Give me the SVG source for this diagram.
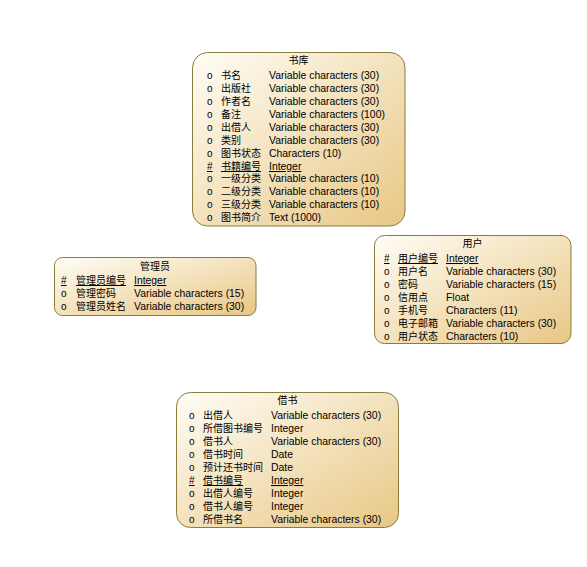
<svg xmlns="http://www.w3.org/2000/svg" width="587" height="567" viewBox="0 0 587 567">
<defs>
<linearGradient id="fill" x1="0" y1="0" x2="1" y2="1">
<stop offset="0" stop-color="#fffdf6"/>
<stop offset="1" stop-color="#e8c784"/>
</linearGradient>
<style>
.box{fill:url(#fill);stroke:#8a7d3c;stroke-width:1}
text{font-family:"Liberation Sans","Noto Sans CJK SC",sans-serif;fill:#000;}
.t{font-size:10px;text-anchor:middle}
.m{font-size:10px}
.n{font-size:10px}
.y{font-size:10.4px}
.u{text-decoration:underline}
</style>
</defs>
<rect width="587" height="567" fill="#fff"/>
<g id="connectors"/>
<g id="shuku">
<rect class="box" x="192.5" y="52.5" width="212.5" height="173.5" rx="15" ry="15"/>
<text class="t" x="298.5" y="64">书库</text>
<text class="m" x="207" y="79">o</text><text class="n" x="221" y="79">书名</text><text class="y" x="269" y="79">Variable characters (30)</text>
<text class="m" x="207" y="92">o</text><text class="n" x="221" y="92">出版社</text><text class="y" x="269" y="92">Variable characters (30)</text>
<text class="m" x="207" y="105">o</text><text class="n" x="221" y="105">作者名</text><text class="y" x="269" y="105">Variable characters (30)</text>
<text class="m" x="207" y="118">o</text><text class="n" x="221" y="118">备注</text><text class="y" x="269" y="118">Variable characters (100)</text>
<text class="m" x="207" y="131">o</text><text class="n" x="221" y="131">出借人</text><text class="y" x="269" y="131">Variable characters (30)</text>
<text class="m" x="207" y="144">o</text><text class="n" x="221" y="144">类别</text><text class="y" x="269" y="144">Variable characters (30)</text>
<text class="m" x="207" y="157">o</text><text class="n" x="221" y="157">图书状态</text><text class="y" x="269" y="157">Characters (10)</text>
<text class="m u" x="207" y="170">#</text><text class="n u" x="221" y="170">书籍编号</text><text class="y u" x="269" y="170">Integer</text>
<text class="m" x="207" y="182">o</text><text class="n" x="221" y="182">一级分类</text><text class="y" x="269" y="182">Variable characters (10)</text>
<text class="m" x="207" y="195">o</text><text class="n" x="221" y="195">二级分类</text><text class="y" x="269" y="195">Variable characters (10)</text>
<text class="m" x="207" y="208">o</text><text class="n" x="221" y="208">三级分类</text><text class="y" x="269" y="208">Variable characters (10)</text>
<text class="m" x="207" y="221">o</text><text class="n" x="221" y="221">图书简介</text><text class="y" x="269" y="221">Text (1000)</text>
</g>
<g id="yonghu">
<rect class="box" x="374.5" y="235.5" width="196.5" height="108" rx="10" ry="10"/>
<text class="t" x="472.5" y="247">用户</text>
<text class="m u" x="384" y="262">#</text><text class="n u" x="398" y="262">用户编号</text><text class="y u" x="446" y="262">Integer</text>
<text class="m" x="384" y="275">o</text><text class="n" x="398" y="275">用户名</text><text class="y" x="446" y="275">Variable characters (30)</text>
<text class="m" x="384" y="288">o</text><text class="n" x="398" y="288">密码</text><text class="y" x="446" y="288">Variable characters (15)</text>
<text class="m" x="384" y="301">o</text><text class="n" x="398" y="301">信用点</text><text class="y" x="446" y="301">Float</text>
<text class="m" x="384" y="314">o</text><text class="n" x="398" y="314">手机号</text><text class="y" x="446" y="314">Characters (11)</text>
<text class="m" x="384" y="327">o</text><text class="n" x="398" y="327">电子邮箱</text><text class="y" x="446" y="327">Variable characters (30)</text>
<text class="m" x="384" y="340">o</text><text class="n" x="398" y="340">用户状态</text><text class="y" x="446" y="340">Characters (10)</text>
</g>
<g id="guanliyuan">
<rect class="box" x="54.5" y="257.5" width="201.5" height="58" rx="8" ry="8"/>
<text class="t" x="155" y="269.5">管理员</text>
<text class="m u" x="61" y="284">#</text><text class="n u" x="76" y="284">管理员编号</text><text class="y u" x="134" y="284">Integer</text>
<text class="m" x="61" y="297">o</text><text class="n" x="76" y="297">管理密码</text><text class="y" x="134" y="297">Variable characters (15)</text>
<text class="m" x="61" y="310">o</text><text class="n" x="76" y="310">管理员姓名</text><text class="y" x="134" y="310">Variable characters (30)</text>
</g>
<g id="jieshu">
<rect class="box" x="176.5" y="392.5" width="222" height="135" rx="14" ry="14"/>
<text class="t" x="287.5" y="404">借书</text>
<text class="m" x="189" y="419">o</text><text class="n" x="203" y="419">出借人</text><text class="y" x="271" y="419">Variable characters (30)</text>
<text class="m" x="189" y="432">o</text><text class="n" x="203" y="432">所借图书编号</text><text class="y" x="271" y="432">Integer</text>
<text class="m" x="189" y="445">o</text><text class="n" x="203" y="445">借书人</text><text class="y" x="271" y="445">Variable characters (30)</text>
<text class="m" x="189" y="458">o</text><text class="n" x="203" y="458">借书时间</text><text class="y" x="271" y="458">Date</text>
<text class="m" x="189" y="471">o</text><text class="n" x="203" y="471">预计还书时间</text><text class="y" x="271" y="471">Date</text>
<text class="m u" x="189" y="484">#</text><text class="n u" x="203" y="484">借书编号</text><text class="y u" x="271" y="484">Integer</text>
<text class="m" x="189" y="497">o</text><text class="n" x="203" y="497">出借人编号</text><text class="y" x="271" y="497">Integer</text>
<text class="m" x="189" y="510">o</text><text class="n" x="203" y="510">借书人编号</text><text class="y" x="271" y="510">Integer</text>
<text class="m" x="189" y="523">o</text><text class="n" x="203" y="523">所借书名</text><text class="y" x="271" y="523">Variable characters (30)</text>
</g>
</svg>
